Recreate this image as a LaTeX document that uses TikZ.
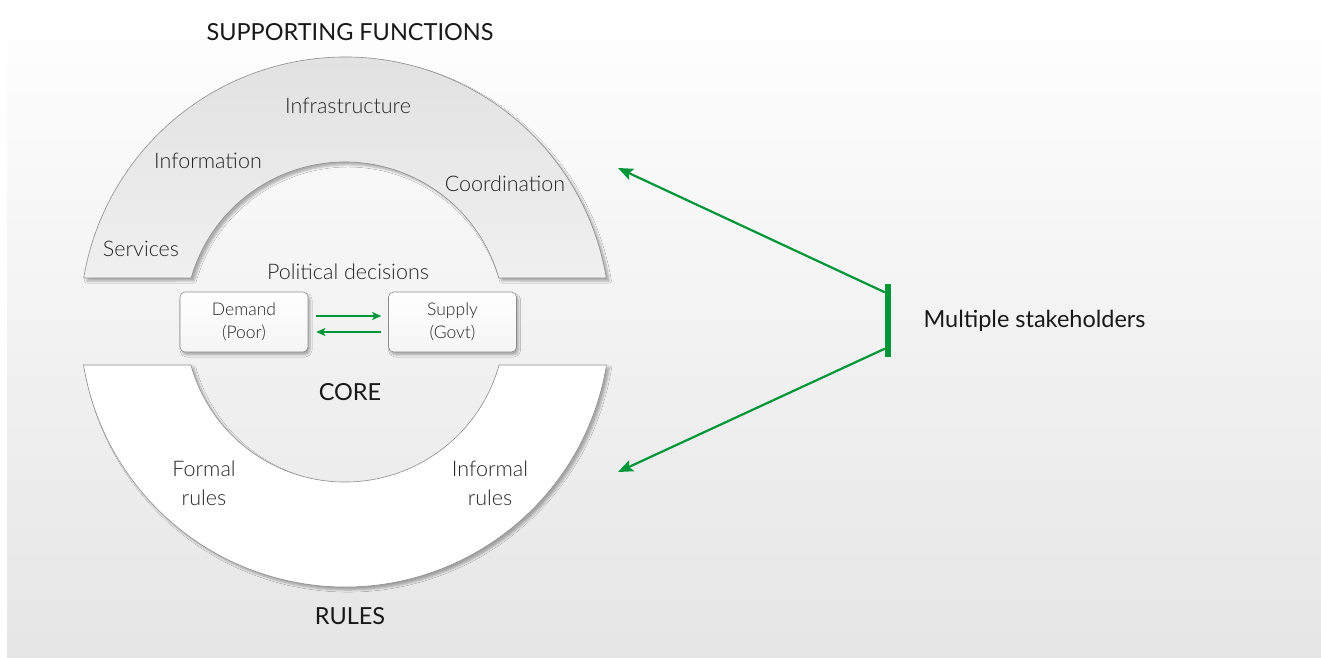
\documentclass[tikz,border=0pt]{standalone}
\usepackage{fontspec}
\setmainfont{Lato}
\newfontfamily\lightfont{Lato}[UprightFont=* Light]
\usetikzlibrary{calc,arrows.meta,shadows.blur}
\definecolor{leafgreen}{RGB}{0,150,57}
\definecolor{ringedge}{RGB}{140,140,140}
\tikzset{
  ringlabel/.style={font=\lightfont\fontsize{21.5}{29}\selectfont, align=center, text=black!85},
  titlelabel/.style={font=\fontsize{23.5}{27}\selectfont, text=black!90},
  agentbox/.style={draw=ringedge, line width=0.6pt, rounded corners=5pt,
    top color=white, bottom color=black!4, minimum width=128pt, minimum height=60pt,
    font=\lightfont\fontsize{17.5}{23}\selectfont, align=center, text=black!85,
    blur shadow={shadow xshift=2pt, shadow yshift=-3pt, shadow blur steps=6, shadow opacity=30}},
  ringshadow/.style={blur shadow={shadow xshift=3pt, shadow yshift=-3pt, shadow blur steps=6, shadow opacity=30}},
  flow/.style={draw=leafgreen, line width=1.6pt, -{Stealth[length=9pt, width=8pt, inset=2pt]}},
  reach/.style={draw=leafgreen, line width=2.2pt, -{Stealth[length=15pt, width=12pt, inset=3pt]}}
}
\begin{document}
\begin{tikzpicture}[x=1pt, y=1pt]
		%%%%% START %%%%%
		
		\useasboundingbox (0, 0) rectangle (1321, 657);
		\fill[white] (0, 0) rectangle (1321, 657);
		\shade[top color=white, bottom color=black!10] (7, 0) rectangle (1321, 657);
		
		\coordinate (hub) at (345, 335);
		\pgfmathsetmacro{\outA}{asin(44/265)}
		\pgfmathsetmacro{\inA}{asin(44/160)}
		\pgfmathsetmacro{\outB}{asin(43/265)}
		\pgfmathsetmacro{\inB}{asin(43/160)}
		
		% upper ring
		\draw[ringedge, line width=0.6pt, top color=black!12, bottom color=black!6, ringshadow]
			($(hub)+(\outA:265)$) arc[start angle=\outA, end angle=180-\outA, radius=265]
			-- ($(hub)+(180-\inA:160)$) arc[start angle=180-\inA, end angle=\inA, radius=160] -- cycle;
		
		% lower ring
		\draw[ringedge, line width=0.6pt, fill=white, ringshadow]
			($(hub)+(-\outB:265)$) arc[start angle=-\outB, end angle=-180+\outB, radius=265]
			-- ($(hub)+(-180+\inB:160)$) arc[start angle=-180+\inB, end angle=-\inB, radius=160] -- cycle;
		
		\node[titlelabel] (supfun) at (350, 625) {SUPPORTING FUNCTIONS};
		\node[ringlabel] (infra) at (348, 551) {Infrastructure};
		\node[ringlabel] (info) at (208, 496) {Information};
		\node[ringlabel] (coord) at (505, 473) {Coordination};
		\node[ringlabel] (serv) at (141, 408) {Services};
		\node[ringlabel] (polit) at (348, 385) {Political decisions};
		
		\node[agentbox] (demand) at (244, 335) {Demand\\(Poor)};
		\node[agentbox] (supply) at (452.5, 335) {Supply\\(Govt)};
		\draw[flow] ($(demand.east)+(8, 6)$) -- ($(supply.west)+(-7, 6)$);
		\draw[flow] ($(supply.west)+(-7, -10)$) -- ($(demand.east)+(8, -10)$);
		
		\node[titlelabel] (core) at (350, 265) {CORE};
		\node[ringlabel] (formal) at (204, 174) {Formal\\rules};
		\node[ringlabel] (informal) at (490, 174) {Informal\\rules};
		\node[titlelabel] (rules) at (350, 41) {RULES};
		
		\node[fill=leafgreen, minimum width=6pt, minimum height=73pt, inner sep=0pt] (bar) at (888, 337) {};
		\node[titlelabel, anchor=west] (stake) at (920, 336) {Multiple stakeholders};
		\coordinate (supfuntip) at (618, 489);
		\coordinate (rulestip) at (618, 185);
		\draw[reach] ($(bar.north west)+(0, -9)$) -- (supfuntip);
		\draw[reach] ($(bar.south west)+(0, 8)$) -- (rulestip);
		
		%%%%% END %%%%%
	\end{tikzpicture}
\end{document}
